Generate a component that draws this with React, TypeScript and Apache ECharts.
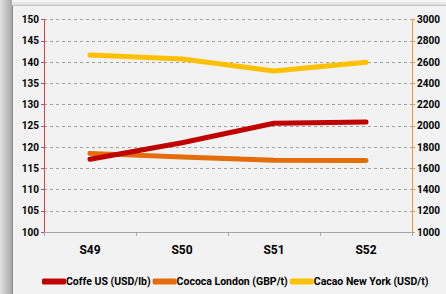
import React, { useEffect, useRef } from "react";
import * as echarts from "echarts";

const categories = ["S49", "S50", "S51", "S52"];
const coffeeUS = [117.1, 121, 125.6, 125.9];
const cocoaLondon = [1740, 1705, 1675, 1672];
const cacaoNY = [2665, 2628, 2515, 2598];

export default function App() {
  const ref = useRef<HTMLDivElement>(null);
  useEffect(() => {
    const chart = echarts.init(ref.current!, null, { renderer: "svg" });
    const font = "Roboto";
    const lbl = { color: "#000000", fontSize: 10, fontWeight: "bold", fontFamily: font };
    chart.setOption({
      animation: false,
      backgroundColor: "#f2f2f2",
      textStyle: { fontFamily: font },
      graphic: [
        {
          type: "rect",
          shape: { x: 0, y: 0, width: 12, height: 294 },
          style: {
            fill: new echarts.graphic.LinearGradient(0, 0, 1, 0, [
              { offset: 0, color: "#e2e2e2" },
              { offset: 1, color: "#a8a8a8" },
            ]),
          },
          silent: true,
        },
        {
          type: "rect",
          shape: { x: 12, y: 0, width: 434, height: 5 },
          style: {
            fill: new echarts.graphic.LinearGradient(0, 0, 0, 1, [
              { offset: 0, color: "#fbfbfb" },
              { offset: 1, color: "#dcdcdc" },
            ]),
          },
          silent: true,
        },
        {
          type: "line",
          shape: { x1: 12.5, y1: 5.5, x2: 12.5, y2: 294 },
          style: { stroke: "#8a8a8a", lineWidth: 1 },
          silent: true,
        },
        {
          type: "line",
          shape: { x1: 12.5, y1: 5.5, x2: 446, y2: 5.5 },
          style: { stroke: "#c4c4c4", lineWidth: 1 },
          silent: true,
        },
      ],
      grid: { left: 44, right: 34, top: 19.5, bottom: 62 },
      legend: {
        left: 37,
        top: 271,
        itemWidth: 24,
        itemHeight: 6,
        itemGap: 2,
        icon: "roundRect",
        textStyle: { fontSize: 10.5, fontWeight: "bold", color: "#000", fontFamily: font, padding: [0, 0, 0, -5] },
        data: ["Coffe US (USD/lb)", "Cococa London (GBP/t)", "Cacao New York (USD/t)"],
      },
      xAxis: {
        type: "category",
        data: categories,
        boundaryGap: true,
        axisLine: { lineStyle: { color: "#a6a6a6", width: 1 } },
        axisTick: { show: true, length: 4, lineStyle: { color: "#a6a6a6" } },
        axisLabel: { ...lbl, fontSize: 12, margin: 12 },
        splitLine: { show: false },
      },
      yAxis: [
        {
          type: "value",
          min: 100,
          max: 150,
          interval: 5,
          position: "left",
          axisLine: { show: false },
          axisTick: { show: false },
          axisLabel: { ...lbl, margin: 5, formatter: (v: number) => String(v) },
          splitLine: { show: true, lineStyle: { color: "#a0a0a0", type: [3, 3], width: 1 } },
        },
        {
          type: "value",
          min: 1000,
          max: 3000,
          interval: 200,
          position: "right",
          axisLine: { show: false },
          axisTick: { show: false },
          axisLabel: { ...lbl, margin: 5, formatter: (v: number) => String(v) },
          splitLine: { show: false },
        },
        {
          type: "value",
          min: 100,
          max: 150,
          interval: 5,
          position: "left",
          axisLine: { show: true, lineStyle: { color: "#d64545", width: 1 } },
          axisTick: { show: true, length: 3, lineStyle: { color: "#d64545" } },
          axisLabel: { show: false },
          splitLine: { show: false },
        },
        {
          type: "value",
          min: 1000,
          max: 3000,
          interval: 200,
          position: "right",
          axisLine: { show: true, lineStyle: { color: "#f0963c", width: 1 } },
          axisTick: { show: true, length: 3, lineStyle: { color: "#f0963c" } },
          axisLabel: { show: false },
          splitLine: { show: false },
        },
      ],
      series: [
        {
          name: "Coffe US (USD/lb)",
          type: "line",
          yAxisIndex: 0,
          data: coffeeUS,
          symbol: "none",
          color: "#c00000",
          lineStyle: { width: 5, color: "#c00000", cap: "round", join: "round" },
          z: 3,
        },
        {
          name: "Cococa London (GBP/t)",
          type: "line",
          yAxisIndex: 1,
          data: cocoaLondon,
          symbol: "none",
          color: "#e46c0a",
          lineStyle: { width: 5, color: "#e46c0a", cap: "round", join: "round" },
          z: 2,
        },
        {
          name: "Cacao New York (USD/t)",
          type: "line",
          yAxisIndex: 1,
          data: cacaoNY,
          symbol: "none",
          color: "#ffc000",
          lineStyle: { width: 5, color: "#ffc000", cap: "round", join: "round" },
          z: 2,
        },
      ],
    });
    return () => chart.dispose();
  }, []);
  return (
    <div
      ref={ref}
      style={{ position: "absolute", left: 0, top: 0, width: 446, height: 294 }}
    />
  );
}
